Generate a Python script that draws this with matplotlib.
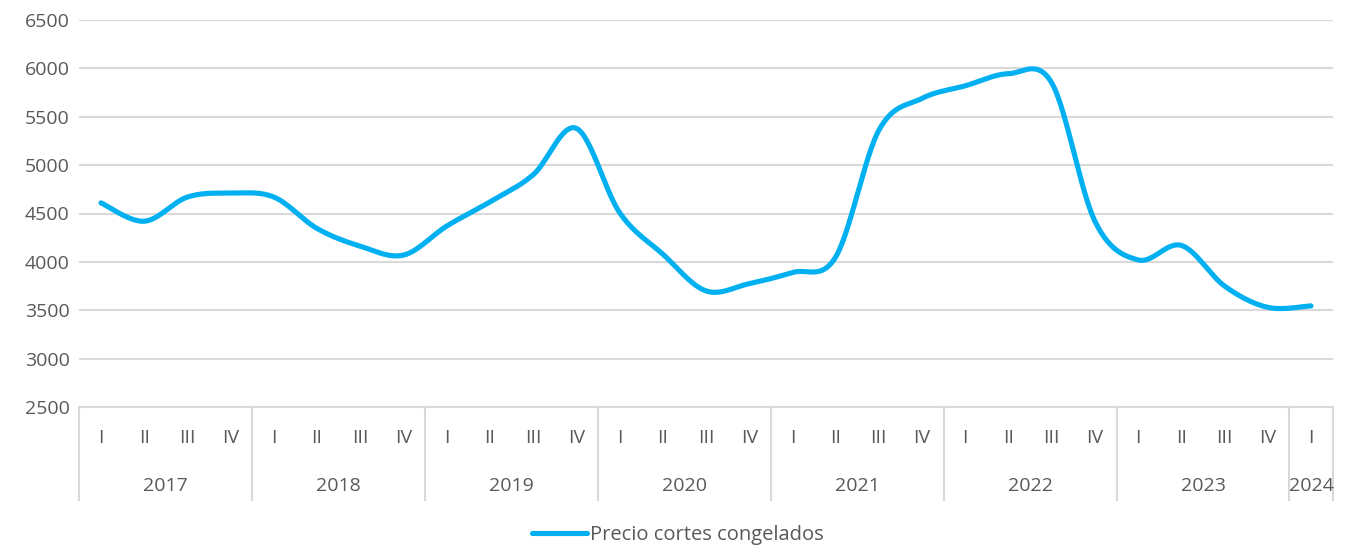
import numpy as np
import matplotlib
matplotlib.use("Agg")
import matplotlib.pyplot as plt
import matplotlib.transforms as mtransforms

years = ["2017", "2018", "2019", "2020", "2021", "2022", "2023", "2024"]
quarters = ["I", "II", "III", "IV"] * 7 + ["I"]
values = [4610, 4420, 4670, 4710,
          4670, 4345, 4162, 4070,
          4370, 4620, 4900, 5380,
          4510, 4080, 3700, 3775,
          3890, 4050, 5360, 5690,
          5820, 5945, 5850, 4420,
          4020, 4170, 3750, 3530,
          3545]
series_name = "Precio cortes congelados"
yticks = [2500, 3000, 3500, 4000, 4500, 5000, 5500, 6000, 6500]

LINE = "#00B0F0"
GRID = "#D9D9D9"
TXT = "#595959"
FS = 14

plt.rcParams['font.family'] = ['Open Sans', 'DejaVu Sans']


def excel_smooth(x, y, n=30):
    x = np.asarray(x, float)
    y = np.asarray(y, float)
    px = np.concatenate([[x[0]], x, [x[-1]]])
    py = np.concatenate([[y[0]], y, [y[-1]]])
    xs, ys = [], []
    t = np.linspace(0, 1, n)
    for i in range(1, len(px) - 2):
        p0 = np.array([px[i], py[i]])
        p3 = np.array([px[i + 1], py[i + 1]])
        c1 = p0 + (np.array([px[i + 1], py[i + 1]]) - np.array([px[i - 1], py[i - 1]])) / 6
        c2 = p3 - (np.array([px[i + 2], py[i + 2]]) - np.array([px[i], py[i]])) / 6
        b = ((1 - t) ** 3)[:, None] * p0 + (3 * (1 - t) ** 2 * t)[:, None] * c1 + \
            (3 * (1 - t) * t ** 2)[:, None] * c2 + (t ** 3)[:, None] * p3
        xs.append(b[:, 0])
        ys.append(b[:, 1])
    return np.concatenate(xs), np.concatenate(ys)


fig = plt.figure(figsize=(13.47, 5.52), dpi=100)
ax = fig.add_axes([79.4 / 1347, 1 - 407 / 552, (1332.6 - 79.4) / 1347, 387 / 552])

x = np.arange(len(values))
sx, sy = excel_smooth(x, values)
ax.plot(sx, sy, color=LINE, lw=3.7, solid_capstyle='round', zorder=3,
        label=series_name)

ax.set_xlim(-0.5, len(values) - 0.5)
ax.set_ylim(yticks[0], yticks[-1])
ax.set_yticks(yticks)
ax.set_yticklabels([str(v) for v in yticks], fontsize=FS, color=TXT)
ax.tick_params(axis='y', length=0, pad=7)
ax.set_xticks([])
ax.grid(axis='y', color=GRID, lw=1.5)
ax.set_axisbelow(True)
for s in ['top', 'right', 'left']:
    ax.spines[s].set_visible(False)
ax.spines['bottom'].set_color(GRID)
ax.spines['bottom'].set_linewidth(1.5)

trans = mtransforms.blended_transform_factory(ax.transData, ax.transAxes)
# quarter labels
for i, q in enumerate(quarters):
    ax.text(i, -0.080, q, transform=trans, ha='center', va='center',
            fontsize=FS, color=TXT)
# year groups
bounds = [-0.5]
pos = -0.5
for k, yr in enumerate(years):
    n = 4 if k < len(years) - 1 else 1
    start = pos
    pos += n
    bounds.append(pos)
    ax.text((start + pos) / 2, -0.205, yr, transform=trans, ha='center',
            va='center', fontsize=FS, color=TXT)
for b in bounds:
    ax.plot([b, b], [0, -0.24], transform=trans, color=GRID, lw=1.5,
            clip_on=False)

fig.legend(loc='center', bbox_to_anchor=(678 / 1347, 1 - 535 / 552),
           frameon=False, fontsize=14.5, labelcolor=TXT, handlelength=2.75,
           handletextpad=0.15)

fig.savefig("out.png", dpi=100)
